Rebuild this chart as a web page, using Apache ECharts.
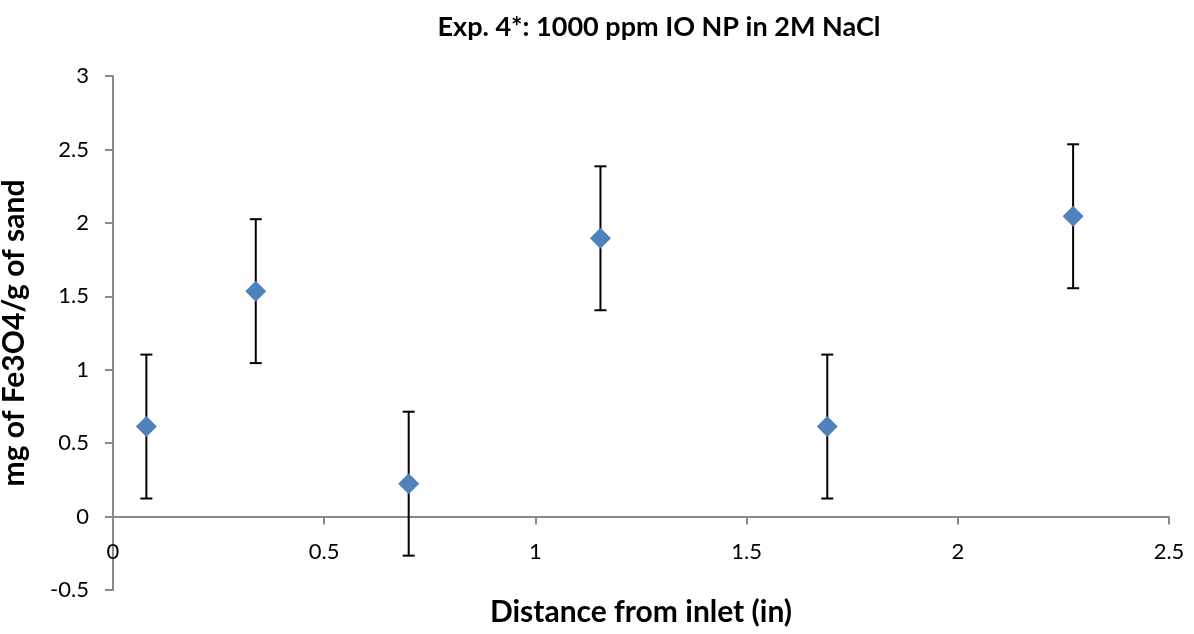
<!DOCTYPE html>
<html>
<head>
<meta charset="utf-8">
<script src="https://cdn.jsdelivr.net/npm/echarts@6/dist/echarts.min.js"></script>
<style>
html,body{margin:0;padding:0;background:#fff;}
#chart{width:1194px;height:634px;}
</style>
</head>
<body>
<div id="chart"></div>
<script>
const chartTitle = 'Exp. 4*: 1000 ppm IO NP in 2M NaCl';
const xTitle = 'Distance from inlet (in)';
const yTitle = 'mg of Fe3O4/g of sand';
const distances = [0.079, 0.338, 0.700, 1.154, 1.691, 2.273];
const values = [0.613, 1.535, 0.224, 1.895, 0.613, 2.045];
const errors = [0.49, 0.49, 0.49, 0.49, 0.49, 0.49];

const FONT = 'Lato, "Open Sans", sans-serif';
const chart = echarts.init(document.getElementById('chart'));
const pts = distances.map((x, i) => [x, values[i]]);
const errData = distances.map((x, i) => [x, values[i] - errors[i], values[i] + errors[i]]);

chart.setOption({
  animation: false,
  backgroundColor: '#ffffff',
  title: {
    text: chartTitle,
    left: 654,
    top: 9,
    textAlign: 'center',
    textStyle: {fontFamily: FONT, fontWeight: 'bold', fontSize: 27, color: '#000'}
  },
  grid: {left: 113, right: 25, top: 76, bottom: 44, containLabel: false, outerBoundsMode: 'none'},
  xAxis: {
    type: 'value', min: 0, max: 2.5, interval: 0.5,
    name: xTitle, nameLocation: 'middle', nameGap: 7, nameMoveOverlap: false,
    nameTextStyle: {fontFamily: FONT, fontWeight: 'bold', fontSize: 30, color: '#000'},
    axisLine: {onZero: true, lineStyle: {color: '#898989', width: 2}},
    axisTick: {show: true, inside: false, length: 8, lineStyle: {color: '#898989', width: 2}},
    axisLabel: {margin: -49, fontFamily: FONT, fontSize: 22, color: '#000'},
    splitLine: {show: false}
  },
  yAxis: {
    type: 'value', min: -0.5, max: 3, interval: 0.5,
    name: yTitle, nameLocation: 'middle', nameGap: 84, nameRotate: 90, nameMoveOverlap: false,
    nameTextStyle: {fontFamily: FONT, fontWeight: 'bold', fontSize: 30, color: '#000'},
    axisLine: {show: true, onZero: false, lineStyle: {color: '#898989', width: 2}},
    axisTick: {show: true, inside: false, length: 8, lineStyle: {color: '#898989', width: 2}},
    axisLabel: {margin: 24, fontFamily: FONT, fontSize: 22, color: '#000'},
    splitLine: {show: false}
  },
  series: [
    {
      type: 'custom',
      data: errData,
      z: 2,
      renderItem: function (params, api) {
        const x = api.value(0);
        const lo = api.coord([x, api.value(1)]);
        const hi = api.coord([x, api.value(2)]);
        const cap = 6;
        const style = {stroke: '#000', lineWidth: 2};
        return {
          type: 'group',
          children: [
            {type: 'line', shape: {x1: lo[0], y1: lo[1], x2: hi[0], y2: hi[1]}, style: style},
            {type: 'line', shape: {x1: lo[0] - cap, y1: lo[1], x2: lo[0] + cap, y2: lo[1]}, style: style},
            {type: 'line', shape: {x1: hi[0] - cap, y1: hi[1], x2: hi[0] + cap, y2: hi[1]}, style: style}
          ]
        };
      }
    },
    {
      type: 'scatter',
      data: pts,
      symbol: 'diamond',
      symbolSize: [21, 21],
      z: 3,
      itemStyle: {color: '#4F81BD', opacity: 1}
    }
  ]
});
</script>
</body>
</html>
